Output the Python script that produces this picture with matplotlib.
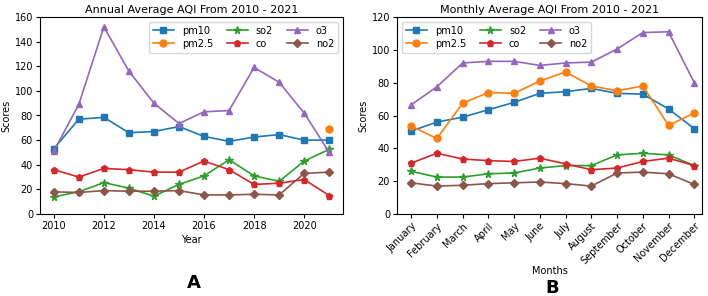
import numpy as np
import matplotlib
matplotlib.use("Agg")
import matplotlib.pyplot as plt

years = list(range(2010, 2022))
annual_pm10 = [53, 77, 78.5, 66, 67, 71, 63, 59, 62.5, 64.5, 60, 60]
annual_pm25 = [np.nan] * 11 + [69]
annual_so2 = [14, 18, 25.5, 21, 14.5, 24, 31, 44, 31, 26.5, 43, 52.5]
annual_co = [36, 30, 37, 36, 34, 34, 43, 36, 24, 25, 28, 15]
annual_o3 = [51, 89, 152, 116, 90, 73.5, 83, 84, 119, 107, 82, 50]
annual_no2 = [18, 17.5, 19, 18.5, 18.5, 19, 15.5, 15.5, 16, 15.5, 33, 34]

months = ["January", "February", "March", "April", "May", "June", "July",
          "August", "September", "October", "November", "December"]
monthly_pm10 = [50.5, 56, 59, 63.5, 68, 73.5, 74.5, 76.5, 73.5, 73, 64, 52]
monthly_pm25 = [53.5, 46, 67.5, 74, 73.5, 81, 86.5, 78, 75, 78, 54, 61.5]
monthly_so2 = [26, 22.5, 22.5, 24.5, 25, 28, 29.5, 29.5, 36, 37, 36, 29.5]
monthly_co = [31, 37, 33.5, 32.5, 32, 34, 30.5, 27, 28, 32, 34, 29.5]
monthly_o3 = [66.5, 77.5, 92, 93, 93, 90.5, 92, 92.5, 100.5, 110.5, 111, 80]
monthly_no2 = [19, 17, 17.5, 18.5, 19, 19.5, 18.5, 17, 25, 25.5, 24.5, 18]

series_names = ["pm10", "pm2.5", "so2", "co", "o3", "no2"]
markers = ["s", "o", "*", "p", "^", "D"]
colors = ["#1f77b4", "#ff7f0e", "#2ca02c", "#d62728", "#9467bd", "#8c564b"]
msizes = [5, 5, 5.5, 4.5, 5, 4]

fig = plt.figure(figsize=(7.08, 2.96), dpi=100)
W, H = 708, 296
ax1 = fig.add_axes([40 / W, 1 - 214 / H, 303 / W, 197 / H])
ax2 = fig.add_axes([397 / W, 1 - 214 / H, 305 / W, 197 / H])

fs = 7
annual = [annual_pm10, annual_pm25, annual_so2, annual_co, annual_o3, annual_no2]
for name, vals, m, c, ms in zip(series_names, annual, markers, colors, msizes):
    ax1.plot(years, vals, marker=m, color=c, label=name, markersize=ms, linewidth=1.2)
ax1.set_ylim(0, 160)
ax1.set_xlim(2009.45, 2021.55)
ax1.set_xticks([2010, 2012, 2014, 2016, 2018, 2020])
ax1.set_title("Annual Average AQI From 2010 - 2021", fontsize=8, pad=3)
ax1.set_xlabel("Year", fontsize=fs, labelpad=3)
ax1.set_ylabel("Scores", fontsize=fs, labelpad=2)
ax1.tick_params(labelsize=fs, length=3, pad=2)
ax1.legend(ncol=3, fontsize=fs, loc="upper right", handlelength=2.2, columnspacing=1.4,
           labelspacing=0.3, borderpad=0.4)

monthly = [monthly_pm10, monthly_pm25, monthly_so2, monthly_co, monthly_o3, monthly_no2]
x = np.arange(len(months))
for name, vals, m, c, ms in zip(series_names, monthly, markers, colors, msizes):
    ax2.plot(x, vals, marker=m, color=c, label=name, markersize=ms, linewidth=1.2)
ax2.set_ylim(0, 120)
ax2.set_xlim(-0.55, 11.3)
ax2.set_xticks(x)
ax2.set_xticklabels(months, rotation=45, ha="right", rotation_mode="anchor")
ax2.set_title("Monthly Average AQI From 2010 - 2021", fontsize=8, pad=3)
ax2.set_xlabel("Months", fontsize=fs, labelpad=0)
ax2.set_ylabel("Scores", fontsize=fs, labelpad=2)
ax2.tick_params(labelsize=fs, length=3, pad=2)
ax2.legend(ncol=3, fontsize=fs, loc="upper left", handlelength=2.2, columnspacing=1.4,
           labelspacing=0.3, borderpad=0.4)

fig.text(194 / W, 1 - 283 / H, "A", fontsize=13, fontweight="bold", ha="center", va="center")
fig.text(552 / W, 1 - 288 / H, "B", fontsize=13, fontweight="bold", ha="center", va="center")

fig.savefig("out.png", dpi=100)
